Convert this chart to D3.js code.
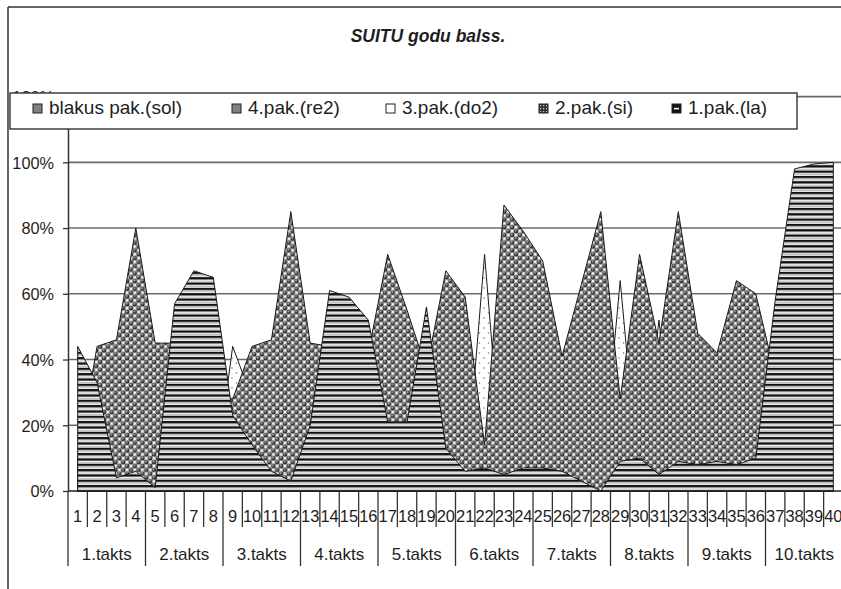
<!DOCTYPE html>
<html>
<head>
<meta charset="utf-8">
<script src="https://cdn.jsdelivr.net/npm/d3@7"></script>
<style>
  html, body { margin: 0; padding: 0; background: #fff; }
  svg { display: block; font-family: "Liberation Sans", Arial, sans-serif; }
</style>
</head>
<body>
<svg id="chart" width="841" height="589"></svg>
<script>
// ---- data -------------------------------------------------------------
const categories = ["1","2","3","4","5","6","7","8","9","10",
  "11","12","13","14","15","16","17","18","19","20",
  "21","22","23","24","25","26","27","28","29","30",
  "31","32","33","34","35","36","37","38","39","40"];

const takts = ["1.takts","2.takts","3.takts","4.takts","5.takts",
  "6.takts","7.takts","8.takts","9.takts","10.takts"];
const beatsPerTakt = 4;

const yTicks = [0, 20, 40, 60, 80, 100, 120];

// percent values per beat
const pak1la = [44,33,4,6, 1,57,67,65, 23,14,6,3, 20,61,59,52, 21,21,56,13,
  6,7,5,7, 7,6,3,0, 9,10,5,9, 8,9,8,10, 58,98,99.5,100];
const pak2si = [10,44,46,80, 45,45,30,28, 28,44,46,85, 45,44,43,42, 72,55,37,67,
  59,14,87,79, 70,41,63,85, 28,72,45,85, 48,42,64,60, 35,0,0,0];
const pak3do2 = [0,0,0,0, 0,0,0,0, 44,28,0,0, 0,0,0,0, 0,0,0,0,
  0,72,0,0, 0,0,0,0, 64,0,52,0, 0,0,0,0, 0,0,0,0];
const pak4re2 = [0,0,0,0, 0,0,0,0, 0,0,0,0, 0,0,0,0, 0,0,0,0,
  0,0,0,0, 0,0,0,0, 0,0,0,0, 0,0,0,0, 0,0,0,0];
const blakusSol = [0,0,0,0, 0,0,0,0, 0,0,0,0, 0,0,0,0, 0,0,0,0,
  0,0,0,0, 0,0,0,0, 0,0,0,0, 0,0,0,0, 0,0,0,0];

const seriesNames = ["blakus pak.(sol)", "4.pak.(re2)", "3.pak.(do2)", "2.pak.(si)", "1.pak.(la)"];
const seriesValues = [blakusSol, pak4re2, pak3do2, pak2si, pak1la];

// ---- layout -----------------------------------------------------------
const svg = d3.select("#chart");
const plot = { left: 68, right: 843, top: 96.6, bottom: 491 };
const ink = "#1e1e1e";

const x = d3.scaleBand().domain(categories).range([plot.left, plot.right]).padding(0);
const xc = c => x(c) + x.bandwidth() / 2;
const y = d3.scaleLinear().domain([0, 120]).range([plot.bottom, plot.top]);

// ---- fill patterns ----------------------------------------------------
const defs = svg.append("defs");

const stripes = defs.append("pattern").attr("id", "pStripes")
  .attr("patternUnits", "userSpaceOnUse").attr("width", 8).attr("height", 5.33);
stripes.append("rect").attr("width", 8).attr("height", 5.33).attr("fill", "#f4f4f4");
stripes.append("rect").attr("y", 0).attr("width", 8).attr("height", 2.3).attr("fill", "#111");
stripes.append("rect").attr("y", 3.5).attr("width", 8).attr("height", 0.7).attr("fill", "#aaa");

const ballGrad = defs.append("radialGradient").attr("id", "gBall")
  .attr("cx", "42%").attr("cy", "38%").attr("r", "62%");
ballGrad.append("stop").attr("offset", "0%").attr("stop-color", "#c4c4c4");
ballGrad.append("stop").attr("offset", "45%").attr("stop-color", "#4a4a4a");
ballGrad.append("stop").attr("offset", "100%").attr("stop-color", "#1c1c1c");

// staggered lattice of shaded balls
const bw = 7.7;
const balls = defs.append("pattern").attr("id", "pBalls")
  .attr("patternUnits", "userSpaceOnUse").attr("width", bw).attr("height", bw);
balls.append("rect").attr("width", bw).attr("height", bw).attr("fill", "#fcfcfc");
[[0, 0], [bw, 0], [0, bw], [bw, bw], [bw / 2, bw / 2]].forEach(([cx, cy]) => {
  balls.append("circle").attr("cx", cx).attr("cy", cy).attr("r", 2.45).attr("fill", "url(#gBall)");
});

const sparse = defs.append("pattern").attr("id", "pSparse")
  .attr("patternUnits", "userSpaceOnUse").attr("width", 9).attr("height", 10);
sparse.append("rect").attr("width", 9).attr("height", 10).attr("fill", "#fff");
sparse.append("circle").attr("cx", 2.5).attr("cy", 3).attr("r", 0.8).attr("fill", "#777");
sparse.append("circle").attr("cx", 7).attr("cy", 8).attr("r", 0.8).attr("fill", "#777");

const legendChecker = defs.append("pattern").attr("id", "pChecker")
  .attr("patternUnits", "userSpaceOnUse").attr("width", 3).attr("height", 3);
legendChecker.append("rect").attr("width", 3).attr("height", 3).attr("fill", "#333");
legendChecker.append("rect").attr("width", 1.2).attr("height", 1.2).attr("fill", "#ccc");

const seriesFill = ["#808080", "#808080", "url(#pSparse)", "url(#pBalls)", "url(#pStripes)"];

// ---- chart frame & title ---------------------------------------------
svg.append("line").attr("x1", 8).attr("y1", 7).attr("x2", 841).attr("y2", 7)
  .attr("stroke", "#333").attr("stroke-width", 1.5);
svg.append("line").attr("x1", 8).attr("y1", 7).attr("x2", 8).attr("y2", 589)
  .attr("stroke", "#333").attr("stroke-width", 1.5);

svg.append("text").attr("x", 428).attr("y", 42).attr("text-anchor", "middle")
  .attr("font-size", 17.5).attr("font-weight", "bold").attr("font-style", "italic")
  .attr("fill", ink).text("SUITU godu balss.");

// ---- gridlines --------------------------------------------------------
svg.append("g").selectAll("line").data(yTicks.filter(v => v > 0)).join("line")
  .attr("x1", plot.left).attr("x2", plot.right)
  .attr("y1", d => y(d)).attr("y2", d => y(d))
  .attr("stroke", "#6a6a6a").attr("stroke-width", 1.6);

// ---- overlapping areas (first series at the back) ---------------------
const area = d3.area()
  .x((d, i) => xc(categories[i]))
  .y0(y(0))
  .y1(d => y(d));

svg.append("g").selectAll("path").data(seriesValues).join("path")
  .attr("d", d => area(d))
  .attr("fill", (d, i) => seriesFill[i])
  .attr("stroke", "#1a1a1a").attr("stroke-width", 1)
  .attr("stroke-linejoin", "miter");

// ---- value axis -------------------------------------------------------
const yAxis = svg.append("g").attr("transform", `translate(${plot.left},0)`)
  .call(d3.axisLeft(y).tickValues(yTicks).tickFormat(d => d + "%").tickSize(5).tickSizeOuter(0));
yAxis.select(".domain").attr("stroke", "#333").attr("stroke-width", 1.5);
yAxis.selectAll(".tick line").attr("stroke", "#333").attr("stroke-width", 1.3);
yAxis.selectAll(".tick text").attr("x", -14).attr("dy", "0.36em")
  .attr("font-size", 16.3).attr("fill", ink).attr("font-family", "Liberation Sans, Arial, sans-serif");

// ---- category axis (two levels) --------------------------------------
const xAxis = svg.append("g");
xAxis.append("line").attr("x1", plot.left).attr("x2", plot.right)
  .attr("y1", plot.bottom).attr("y2", plot.bottom)
  .attr("stroke", "#222").attr("stroke-width", 1.6);

const edges = categories.map(c => x(c)).concat([plot.right]);
xAxis.selectAll("line.cat").data(edges).join("line").attr("class", "cat")
  .attr("x1", d => d).attr("x2", d => d)
  .attr("y1", plot.bottom).attr("y2", (d, i) => i % beatsPerTakt === 0 ? 566 : 527)
  .attr("stroke", "#333").attr("stroke-width", 1.3);

xAxis.selectAll("text.cat").data(categories).join("text").attr("class", "cat")
  .attr("x", d => xc(d)).attr("y", 522).attr("text-anchor", "middle")
  .attr("font-size", 16.5).attr("fill", ink).text(d => d);

xAxis.selectAll("text.takt").data(takts).join("text").attr("class", "takt")
  .attr("x", (d, i) => {
    const first = categories[i * beatsPerTakt];
    const last = categories[i * beatsPerTakt + beatsPerTakt - 1];
    return (x(first) + x(last) + x.bandwidth()) / 2;
  })
  .attr("y", 560).attr("text-anchor", "middle")
  .attr("font-size", 17).attr("fill", ink).text(d => d);

// ---- legend -----------------------------------------------------------
const legend = svg.append("g");
legend.append("rect").attr("x", 10).attr("y", 93).attr("width", 787).attr("height", 36)
  .attr("fill", "#fff").attr("stroke", "#333").attr("stroke-width", 1.4);

const legendTextX = [49, 248, 402, 555, 688];
const legendSwatch = ["#808080", "#808080", "#fff", "url(#pChecker)", "#111"];
const items = legend.selectAll("g.item").data(seriesNames).join("g").attr("class", "item")
  .attr("transform", (d, i) => `translate(${legendTextX[i]},0)`);
items.append("rect").attr("x", -16).attr("y", 104).attr("width", 9).attr("height", 9)
  .attr("fill", (d, i) => legendSwatch[i]).attr("stroke", "#222").attr("stroke-width", 1);
items.filter((d, i) => i === 4).append("rect")
  .attr("x", -14).attr("y", 107.8).attr("width", 5).attr("height", 1.6).attr("fill", "#fff");
items.append("text").attr("x", 0).attr("y", 113.5)
  .attr("font-size", 19).attr("fill", ink).text(d => d);
</script>
</body>
</html>
